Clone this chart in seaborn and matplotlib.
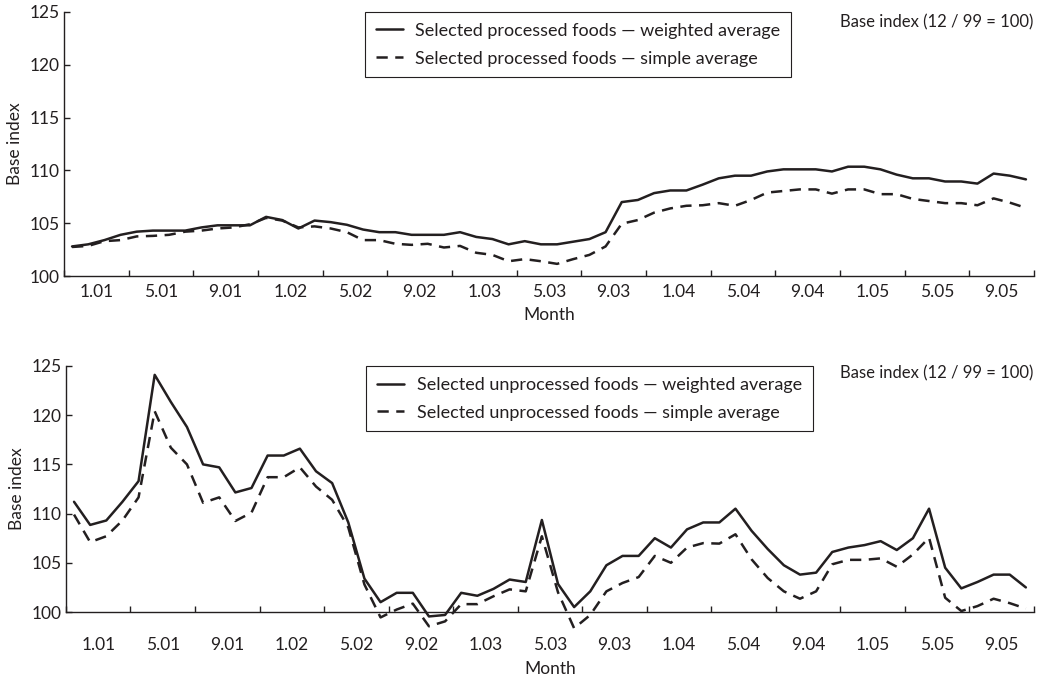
import numpy as np
import pandas as pd
import matplotlib
matplotlib.use("Agg")
import matplotlib.pyplot as plt
import seaborn as sns

# monthly values, 1.01 .. 12.05 (60 months), base 12/99 = 100
processed_weighted = [
    102.8, 103.0, 103.4, 103.9, 104.2, 104.3, 104.3, 104.3, 104.6, 104.8,
    104.8, 104.8, 105.6, 105.3, 104.5, 105.25, 105.1, 104.85, 104.4, 104.15,
    104.15, 103.9, 103.9, 103.9, 104.15, 103.7, 103.5, 103.0, 103.3, 103.0,
    103.0, 103.25, 103.5, 104.15, 107.0, 107.2, 107.85, 108.1, 108.1, 108.65,
    109.25, 109.5, 109.5, 109.9, 110.1, 110.1, 110.1, 109.9, 110.35, 110.35,
    110.1, 109.6, 109.25, 109.25, 108.95, 108.95, 108.75, 109.7, 109.5, 109.15,
]
processed_simple = [
    102.75, 102.85, 103.3, 103.4, 103.75, 103.8, 103.9, 104.2, 104.3, 104.5,
    104.6, 104.9, 105.5, 105.25, 104.6, 104.7, 104.5, 104.15, 103.4, 103.4,
    103.05, 102.95, 103.05, 102.7, 102.85, 102.2, 102.0, 101.4, 101.6, 101.4,
    101.15, 101.6, 102.0, 102.8, 104.95, 105.3, 106.0, 106.4, 106.65, 106.7,
    106.9, 106.65, 107.2, 107.9, 108.05, 108.2, 108.2, 107.8, 108.2, 108.2,
    107.75, 107.75, 107.3, 107.1, 106.9, 106.9, 106.7, 107.35, 106.95, 106.45,
]
unprocessed_weighted = [
    111.2, 108.85, 109.3, 111.2, 113.3, 124.1, 121.35, 118.8, 115.0, 114.7,
    112.15, 112.6, 115.9, 115.9, 116.6, 114.3, 113.1, 109.1, 103.4, 101.0,
    101.95, 101.95, 99.55, 99.7, 101.95, 101.65, 102.35, 103.3, 103.05, 109.35,
    102.85, 100.5, 102.1, 104.75, 105.7, 105.7, 107.5, 106.55, 108.4, 109.1,
    109.1, 110.5, 108.25, 106.4, 104.75, 103.8, 104.0, 106.1, 106.55, 106.8,
    107.2, 106.3, 107.5, 110.5, 104.5, 102.4, 103.05, 103.8, 103.8, 102.5,
]
unprocessed_simple = [
    109.9, 107.1, 107.7, 109.3, 111.65, 120.4, 116.7, 115.0, 111.1, 111.65,
    109.25, 110.1, 113.7, 113.7, 114.7, 112.75, 111.4, 108.6, 102.8, 99.45,
    100.25, 100.85, 98.55, 99.05, 100.8, 100.8, 101.6, 102.3, 102.1, 107.7,
    102.0, 98.35, 99.7, 102.1, 102.95, 103.55, 105.7, 105.0, 106.55, 107.0,
    106.95, 107.9, 105.35, 103.45, 102.1, 101.35, 102.1, 104.85, 105.3, 105.3,
    105.45, 104.6, 105.85, 107.55, 101.45, 100.1, 100.6, 101.35, 100.9, 100.35,
]
tick_labels = ["1.01", "5.01", "9.01", "1.02", "5.02", "9.02", "1.03", "5.03",
               "9.03", "1.04", "5.04", "9.04", "1.05", "5.05", "9.05"]

sns.set_style("ticks")
plt.rcParams["font.family"] = ["Lato", "DejaVu Sans"]
plt.rcParams["font.size"] = 12.5
ink = "#231f20"

fig = plt.figure(figsize=(10.47, 6.77), dpi=100)
ax1 = fig.add_axes([0.0611, 0.5923, 0.9265, 0.390])
ax2 = fig.add_axes([0.063, 0.096, 0.9245, 0.3634])

# axes, weighted, simple, name, note y, tick label pad, month label pad
panels = [
    (ax1, processed_weighted, processed_simple, "Selected processed foods", 0.962, 6, 5),
    (ax2, unprocessed_weighted, unprocessed_simple, "Selected unprocessed foods", 0.971, 18, 6),
]

for ax, w, s, name, ty, tpad, mpad in panels:
    n = len(w)
    df = pd.DataFrame({
        "month": list(range(n)) * 2,
        "value": w + s,
        "series": [f"{name} \u2014 weighted average"] * n + [f"{name} \u2014 simple average"] * n,
    })
    sns.lineplot(data=df, x="month", y="value", style="series",
                 dashes=[(None, None), (4.5, 3.0)], color=ink, lw=1.8,
                 ax=ax, clip_on=False)

    ax.set_xlim(-0.5, n - 0.5)
    ax.set_ylim(100, 125)
    ax.set_yticks(range(100, 126, 5))
    ax.set_xticks(np.arange(-0.5, n, 4))
    ax.set_xticklabels([])
    ax.set_xticks(np.arange(1.5, n, 4), minor=True)
    ax.set_xticklabels(tick_labels, minor=True)
    ax.tick_params(axis="x", which="major", direction="in", length=4.5, color=ink, width=1)
    ax.tick_params(axis="x", which="minor", length=0, pad=tpad, colors=ink)
    ax.tick_params(axis="y", direction="in", length=4.5, color=ink, width=1, labelcolor=ink, pad=3)
    sns.despine(ax=ax)
    for sp in ["left", "bottom"]:
        ax.spines[sp].set_color(ink)
        ax.spines[sp].set_linewidth(1.0)

    ax.set_xlabel("Month", color=ink, labelpad=mpad)
    ax.set_ylabel("Base index", color=ink, labelpad=5)
    ax.text(0.999, ty, "Base index (12 / 99 = 100)", transform=ax.transAxes,
            ha="right", va="center", color=ink, fontsize=12)

    leg = ax.legend(loc="upper left", bbox_to_anchor=(0.31, 1.0), borderaxespad=0,
                    frameon=True, fancybox=False, handlelength=1.5, handletextpad=0.7,
                    labelspacing=0.65, borderpad=0.6, labelcolor=ink, fontsize=13)
    leg.get_frame().set_edgecolor(ink)
    leg.get_frame().set_linewidth(0.8)
    leg.get_frame().set_alpha(1)

fig.savefig("out.png", dpi=100)
